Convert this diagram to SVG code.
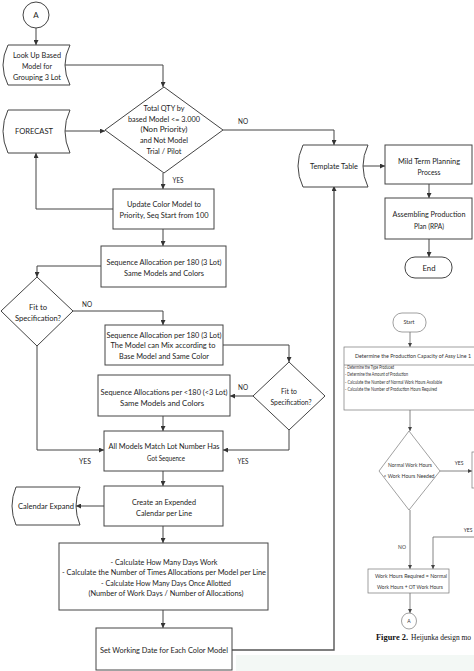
<svg xmlns="http://www.w3.org/2000/svg" width="474" height="671" viewBox="0 0 474 671">
<defs>
<marker id="ah" viewBox="0 0 8 8" refX="8" refY="4" markerWidth="5" markerHeight="5" orient="auto" markerUnits="userSpaceOnUse"><path d="M0,0 L8,4 L0,8 Z" fill="#333"/></marker>
<marker id="ahs" viewBox="0 0 8 8" refX="8" refY="4" markerWidth="4" markerHeight="4" orient="auto" markerUnits="userSpaceOnUse"><path d="M0,0 L8,4 L0,8 Z" fill="#444"/></marker>
<style>
.b{fill:#fff;stroke:#444;stroke-width:1}
.bi{fill:#fff;stroke:#777;stroke-width:0.7}
.c{fill:none;stroke:#444;stroke-width:1}
.ci{fill:none;stroke:#666;stroke-width:0.8}
.t{font-family:Lato,"Liberation Sans",sans-serif;font-size:8px;fill:#222;text-anchor:middle}
.s{font-family:Lato,"Liberation Sans",sans-serif;font-size:5px;fill:#333;text-anchor:middle}
.sl{font-family:Lato,"Liberation Sans",sans-serif;font-size:5px;fill:#333;text-anchor:start}
.cap{font-family:"Liberation Serif",serif;font-size:8.2px;fill:#111}
</style>
</defs>
<rect width="474" height="671" fill="#fff"/>
<rect x="236" y="655" width="238" height="16" fill="#f3f8f5"/>

<g id="connectors">
<path class="c" d="M36,28 V45" marker-end="url(#ah)"/>
<path class="c" d="M65,65 H163 V87" marker-end="url(#ah)"/>
<path class="c" d="M65,131 H105" marker-end="url(#ah)"/>
<path class="c" d="M223,130 H334 V145" marker-end="url(#ah)"/>
<path class="c" d="M163,173 V189" marker-end="url(#ah)"/>
<path class="c" d="M113,209 H36 V153" marker-end="url(#ah)"/>
<path class="c" d="M363,166 H385" marker-end="url(#ah)"/>
<path class="c" d="M429,184 V198" marker-end="url(#ah)"/>
<path class="c" d="M429,239 V257" marker-end="url(#ah)"/>
<path class="c" d="M163,229 V246" marker-end="url(#ah)"/>
<path class="c" d="M101,266 H37 V277" marker-end="url(#ah)"/>
<path class="c" d="M73,311 H163 V325" marker-end="url(#ah)"/>
<path class="c" d="M223,345 H289 V362" marker-end="url(#ah)"/>
<path class="c" d="M253,396 H230" marker-end="url(#ah)"/>
<path class="c" d="M163,416 V431" marker-end="url(#ah)"/>
<path class="c" d="M37,346 V450 H104" marker-end="url(#ah)"/>
<path class="c" d="M289,430 V450 H223" marker-end="url(#ah)"/>
<path class="c" d="M163,471 V486" marker-end="url(#ah)"/>
<path class="c" d="M104,506 H76" marker-end="url(#ah)"/>
<path class="c" d="M163,526 V543" marker-end="url(#ah)"/>
<path class="c" d="M163,610 V628" marker-end="url(#ah)"/>
<path class="c" d="M232,650 H334 V186" marker-end="url(#ah)" style="stroke:#555;stroke-width:1.4"/>
<path class="ci" d="M410,332 V347" marker-end="url(#ahs)"/>
<path class="ci" d="M410,410 V431" marker-end="url(#ahs)"/>
<path class="ci" d="M440,471 H472" marker-end="url(#ahs)"/>
<path class="ci" d="M410,510 V569" marker-end="url(#ahs)"/>
<path class="ci" d="M474,537 H433 V569" marker-end="url(#ahs)"/>
<path class="ci" d="M410,593 V613" marker-end="url(#ahs)"/>
<text class="t" x="243" y="124" textLength="10" lengthAdjust="spacingAndGlyphs">NO</text>
<text class="t" x="178" y="183" textLength="11" lengthAdjust="spacingAndGlyphs">YES</text>
<text class="t" x="87" y="307" textLength="10" lengthAdjust="spacingAndGlyphs">NO</text>
<text class="t" x="243" y="390" textLength="10" lengthAdjust="spacingAndGlyphs">NO</text>
<text class="t" x="85" y="464" textLength="12" lengthAdjust="spacingAndGlyphs">YES</text>
<text class="t" x="243" y="464" textLength="11" lengthAdjust="spacingAndGlyphs">YES</text>
<text class="s" x="459" y="465">YES</text>
<text class="s" x="402" y="549">NO</text>
<text class="s" x="468" y="532">YES</text>
</g>

<g id="node-a">
<circle class="b" cx="36" cy="15" r="13"/>
<text class="t" x="36" y="18">A</text>
</g>
<g id="node-lookup">
<path class="b" d="M8,45 H70 Q60,65 70,85 H8 Q-2,65 8,45 Z"/>
<text class="t" x="37" y="58" textLength="48" lengthAdjust="spacingAndGlyphs">Look Up Based</text>
<text class="t" x="37" y="69" textLength="30" lengthAdjust="spacingAndGlyphs">Model for</text>
<text class="t" x="37" y="80" textLength="48" lengthAdjust="spacingAndGlyphs">Grouping 3 Lot</text>
</g>
<g id="node-forecast">
<path class="b" d="M8,110 H70 Q60,131 70,153 H8 Q-2,131 8,110 Z"/>
<text class="t" x="34" y="134" textLength="38" lengthAdjust="spacingAndGlyphs">FORECAST</text>
</g>
<g id="node-decision-qty">
<polygon class="b" points="164,87 223,130 164,173 105,130"/>
<text class="t" x="164" y="111" textLength="41" lengthAdjust="spacingAndGlyphs">Total QTY by</text>
<text class="t" x="164" y="122" textLength="72" lengthAdjust="spacingAndGlyphs">based Model &lt;= 3.000</text>
<text class="t" x="164" y="132" textLength="47" lengthAdjust="spacingAndGlyphs">(Non Priority)</text>
<text class="t" x="164" y="143" textLength="48" lengthAdjust="spacingAndGlyphs">and Not Model</text>
<text class="t" x="164" y="154" textLength="35" lengthAdjust="spacingAndGlyphs">Trial / Pilot</text>
</g>
<g id="node-template">
<path class="b" d="M303,145 H368 Q358,166 368,187 H303 Q293,166 303,145 Z"/>
<text class="t" x="334" y="169" textLength="48" lengthAdjust="spacingAndGlyphs">Template Table</text>
</g>
<g id="node-midterm">
<rect class="b" x="385" y="145" width="87" height="39"/>
<text class="t" x="429" y="164" textLength="62" lengthAdjust="spacingAndGlyphs">Mild Term Planning</text>
<text class="t" x="429" y="175" textLength="23" lengthAdjust="spacingAndGlyphs">Process</text>
</g>
<g id="node-assembling">
<rect class="b" x="385" y="198" width="87" height="41"/>
<text class="t" x="429" y="217" textLength="73" lengthAdjust="spacingAndGlyphs">Assembling Production</text>
<text class="t" x="429" y="229" textLength="30" lengthAdjust="spacingAndGlyphs">Plan (RPA)</text>
</g>
<g id="node-end">
<rect class="b" x="405" y="257" width="47" height="21" rx="10"/>
<text class="t" x="429" y="271" textLength="13" lengthAdjust="spacingAndGlyphs">End</text>
</g>
<g id="node-update">
<rect class="b" x="113" y="189" width="101" height="40"/>
<text class="t" x="164" y="207" textLength="74" lengthAdjust="spacingAndGlyphs">Update Color Model to</text>
<text class="t" x="164" y="218" textLength="89" lengthAdjust="spacingAndGlyphs">Priority, Seq Start from 100</text>
</g>
<g id="node-seq1">
<rect class="b" x="101" y="246" width="125" height="41"/>
<text class="t" x="164" y="265" textLength="115" lengthAdjust="spacingAndGlyphs">Sequence Allocation per 180 (3 Lot)</text>
<text class="t" x="164" y="276" textLength="80" lengthAdjust="spacingAndGlyphs">Same Models and Colors</text>
</g>
<g id="node-fit1">
<polygon class="b" points="37,277 73,311 37,346 1,311"/>
<text class="t" x="38" y="310" textLength="18" lengthAdjust="spacingAndGlyphs">Fit to</text>
<text class="t" x="38" y="321" textLength="46" lengthAdjust="spacingAndGlyphs">Specification?</text>
</g>
<g id="node-seq2">
<rect class="b" x="105" y="325" width="118" height="40"/>
<text class="t" x="164" y="338" textLength="115" lengthAdjust="spacingAndGlyphs">Sequence Allocation per 180 (3 Lot)</text>
<text class="t" x="163" y="348" textLength="105" lengthAdjust="spacingAndGlyphs">The Model can Mix according to</text>
<text class="t" x="164" y="359" textLength="90" lengthAdjust="spacingAndGlyphs">Base Model and Same Color</text>
</g>
<g id="node-fit2">
<polygon class="b" points="289,362 325,396 289,430 253,396"/>
<text class="t" x="289" y="394" textLength="16" lengthAdjust="spacingAndGlyphs">Fit to</text>
<text class="t" x="291" y="405" textLength="41" lengthAdjust="spacingAndGlyphs">Specification?</text>
</g>
<g id="node-seq3">
<rect class="b" x="98" y="375" width="132" height="41"/>
<text class="t" x="164" y="395" textLength="127" lengthAdjust="spacingAndGlyphs">Sequence Allocations per &lt;180 (&lt;3 Lot)</text>
<text class="t" x="162" y="406" textLength="84" lengthAdjust="spacingAndGlyphs">Same Models and Colors</text>
</g>
<g id="node-allmodels">
<rect class="b" x="104" y="431" width="119" height="40"/>
<text class="t" x="164" y="449" textLength="111" lengthAdjust="spacingAndGlyphs">All Models Match Lot Number Has</text>
<text class="t" x="166" y="461" textLength="38" lengthAdjust="spacingAndGlyphs">Got Sequence</text>
</g>
<g id="node-create">
<rect class="b" x="104" y="486" width="119" height="40"/>
<text class="t" x="164" y="505" textLength="64" lengthAdjust="spacingAndGlyphs">Create an Expended</text>
<text class="t" x="164" y="516" textLength="56" lengthAdjust="spacingAndGlyphs">Calendar per Line</text>
</g>
<g id="node-calendar">
<path class="b" d="M16,487 H80 Q72,506 80,525 H16 Q8,506 16,487 Z"/>
<text class="t" x="46" y="509" textLength="56" lengthAdjust="spacingAndGlyphs">Calendar Expand</text>
</g>
<g id="node-calc">
<rect class="b" x="59" y="543" width="209" height="67"/>
<text class="t" x="164" y="565" textLength="107" lengthAdjust="spacingAndGlyphs">- Calculate How Many Days Work</text>
<text class="t" x="164" y="575" textLength="204" lengthAdjust="spacingAndGlyphs">- Calculate the Number of Times Allocations per Model per Line</text>
<text class="t" x="166" y="586" textLength="130" lengthAdjust="spacingAndGlyphs">- Calculate How Many Days Once Allotted</text>
<text class="t" x="166" y="596" textLength="155" lengthAdjust="spacingAndGlyphs">(Number of Work Days / Number of Allocations)</text>
</g>
<g id="node-setdate">
<rect class="b" x="96" y="628" width="136" height="42"/>
<text class="t" x="164" y="653" textLength="128" lengthAdjust="spacingAndGlyphs">Set Working Date for Each Color Model</text>
</g>

<g id="inset-start">
<rect class="bi" x="393" y="313" width="33" height="19" rx="9"/>
<text class="s" x="409" y="324" textLength="11" lengthAdjust="spacingAndGlyphs">Start</text>
</g>
<g id="inset-capacity">
<rect class="bi" x="344" y="347" width="135" height="63"/>
<line x1="344" y1="365" x2="479" y2="365" stroke="#777" stroke-width="0.7"/>
<text class="sl" x="355" y="358" textLength="116" lengthAdjust="spacingAndGlyphs">Determine the Production Capacity of Assy Line 1</text>
<text class="sl" x="345" y="369" textLength="49" lengthAdjust="spacingAndGlyphs">- Determine the Type Produced</text>
<text class="sl" x="345" y="376" textLength="63" lengthAdjust="spacingAndGlyphs">- Determine the Amount of Production</text>
<text class="sl" x="345" y="384" textLength="97" lengthAdjust="spacingAndGlyphs">- Calculate the Number of Normal Work Hours Available</text>
<text class="sl" x="345" y="391" textLength="92" lengthAdjust="spacingAndGlyphs">- Calculate the Number of Production Hours Required</text>
</g>
<g id="inset-decision">
<polygon class="bi" points="409,431 440,471 409,510 379,471"/>
<text class="s" x="410" y="467" textLength="44" lengthAdjust="spacingAndGlyphs">Normal Work Hours</text>
<text class="s" x="409" y="478" textLength="51" lengthAdjust="spacingAndGlyphs">&lt; Work Hours Needed</text>
</g>
<g id="inset-right-box">
<rect class="bi" x="472" y="452" width="10" height="36"/>
</g>
<g id="inset-workhours">
<rect class="bi" x="368" y="569" width="81" height="24"/>
<text class="s" x="411" y="578" textLength="72" lengthAdjust="spacingAndGlyphs">Work Hours Required = Normal</text>
<text class="s" x="410" y="589" textLength="66" lengthAdjust="spacingAndGlyphs">Work Hours + OT Work Hours</text>
</g>
<g id="inset-a">
<ellipse class="bi" cx="409" cy="621" rx="7.5" ry="8"/>
<text class="s" x="409" y="623">A</text>
</g>
<g id="caption">
<text class="cap" x="376" y="640" font-weight="bold" textLength="32" lengthAdjust="spacingAndGlyphs">Figure 2.</text>
<text class="cap" x="411" y="640" textLength="60" lengthAdjust="spacingAndGlyphs">Heijunka design mo</text>
</g>
</svg>
